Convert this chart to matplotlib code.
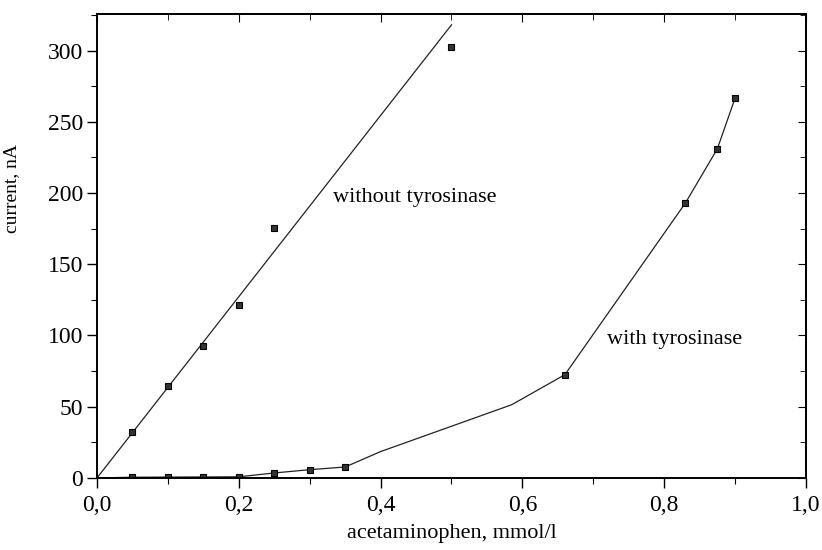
import numpy as np
import matplotlib.pyplot as plt
from matplotlib.ticker import MultipleLocator, FuncFormatter

plt.rcParams['font.family'] = ['Liberation Serif', 'DejaVu Serif']

# without tyrosinase: measured points and linear fit
x_without = [0.05, 0.10, 0.15, 0.20, 0.25, 0.50]
y_without = [32.3, 64.3, 92.4, 121.1, 175.4, 302.2]
fit_x = [0.0, 0.50]
fit_y = [0.0, 318.0]

# with tyrosinase: measured points and smoothed curve
x_with = [0.05, 0.10, 0.15, 0.20, 0.25, 0.30, 0.35, 0.66, 0.83, 0.875, 0.90]
y_with = [0.5, 0.6, 0.7, 0.8, 3.5, 5.8, 7.7, 72.5, 193.0, 231.0, 266.6]
curve_x = [0.0, 0.05, 0.10, 0.15, 0.20, 0.25, 0.30, 0.35, 0.40, 0.585, 0.66, 0.83, 0.875, 0.90]
curve_y = [0.0, 0.5, 0.6, 0.7, 0.8, 3.5, 5.8, 7.7, 18.5, 51.4, 72.5, 193.0, 231.0, 266.6]

fig = plt.figure(figsize=(8.22, 5.5), dpi=100)
ax = fig.add_axes([0.118, 0.131, 0.8625, 0.8435])

ax.plot(fit_x, fit_y, color='#222222', lw=0.9)
ax.plot(curve_x, curve_y, color='#222222', lw=0.9)
ax.plot(x_without, y_without, 's', ms=5, mfc='#333333', mec='black', mew=0.8)
ax.plot(x_with, y_with, 's', ms=5, mfc='#333333', mec='black', mew=0.8)

ax.text(0.333, 196.7, 'without tyrosinase', fontsize=16, va='center')
ax.text(0.719, 97, 'with tyrosinase', fontsize=16, va='center')

ax.set_xlim(0, 1.0)
ax.set_ylim(0, 325.6)
ax.xaxis.set_major_locator(MultipleLocator(0.2))
ax.xaxis.set_minor_locator(MultipleLocator(0.1))
ax.yaxis.set_major_locator(MultipleLocator(50))
ax.yaxis.set_minor_locator(MultipleLocator(25))
ax.xaxis.set_major_formatter(FuncFormatter(lambda v, p: f'{v:.1f}'.replace('.', ',')))
ax.tick_params(which='major', direction='out', length=7, width=1, labelsize=17)
ax.tick_params(axis='x', which='major', pad=5)
ax.tick_params(axis='y', which='major', pad=3)
ax.tick_params(which='minor', direction='out', length=4, width=0.8)

for s in ax.spines.values():
    s.set_linewidth(1.4)

# inward ticks on top and right
top = ax.secondary_xaxis('top')
top.xaxis.set_major_locator(MultipleLocator(0.2))
top.xaxis.set_minor_locator(MultipleLocator(0.1))
top.tick_params(which='major', direction='in', length=6, labeltop=False)
top.tick_params(which='minor', direction='in', length=4)
right = ax.secondary_yaxis('right')
right.yaxis.set_major_locator(MultipleLocator(50))
right.yaxis.set_minor_locator(MultipleLocator(25))
right.tick_params(which='major', direction='in', length=6, labelright=False)
right.tick_params(which='minor', direction='in', length=4)
top.spines['top'].set_linewidth(1.4)
right.spines['right'].set_linewidth(1.4)

ax.set_xlabel('acetaminophen, mmol/l', fontsize=16, labelpad=6)
ax.set_ylabel('current, nA', fontsize=14)
ax.yaxis.set_label_coords(-0.109, 0.623)

fig.savefig('out.png', dpi=100)
